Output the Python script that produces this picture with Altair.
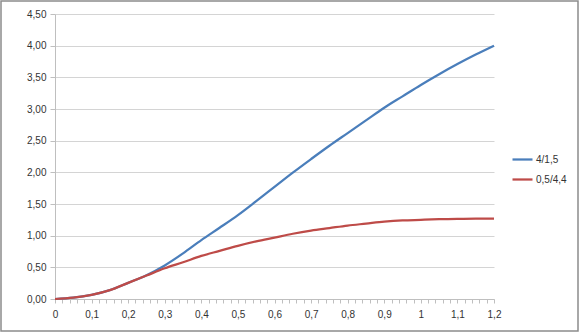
import altair as alt
import pandas as pd

x_vals = [0, 0.05, 0.1, 0.15, 0.2, 0.25, 0.3, 0.35, 0.4, 0.45, 0.5, 0.55, 0.6,
          0.65, 0.7, 0.75, 0.8, 0.85, 0.9, 0.95, 1.0, 1.05, 1.1, 1.15, 1.2]
blue_vals = [0, 0.02, 0.065, 0.14, 0.255, 0.375, 0.53, 0.72, 0.93, 1.125, 1.325, 1.545,
             1.77, 1.995, 2.21, 2.42, 2.62, 2.82, 3.02, 3.20, 3.38, 3.55, 3.71, 3.86, 4.0]
red_vals = [0, 0.02, 0.065, 0.14, 0.255, 0.37, 0.485, 0.58, 0.68, 0.76, 0.84, 0.91,
            0.97, 1.03, 1.08, 1.12, 1.16, 1.19, 1.22, 1.24, 1.25, 1.26, 1.265, 1.27, 1.27]
series_names = ["4/1,5", "0,5/4,4"]
series_colors = ["#4A7EBB", "#BE4B48"]
y_ticks = [0, 0.5, 1.0, 1.5, 2.0, 2.5, 3.0, 3.5, 4.0, 4.5]
x_ticks = [round(i * 0.02, 2) for i in range(61)]

rows = []
for xv, b, r in zip(x_vals, blue_vals, red_vals):
    rows.append({"x": xv, "v": b, "s": series_names[0]})
    rows.append({"x": xv, "v": r, "s": series_names[1]})
df = pd.DataFrame(rows)

FONT = "Liberation Sans"

lines = alt.Chart(df).mark_line(strokeWidth=2.25, interpolate="monotone").encode(
    x=alt.X("x:Q", scale=alt.Scale(domain=[0, 1.2], nice=False), title=None,
            axis=alt.Axis(values=x_ticks, grid=False, tickSize=4, tickColor="#bfbfbf",
                          domainColor="#bfbfbf", labelPadding=6,
                          labelExpr="(round(datum.value*50) % 5 == 0) ? replace(format(datum.value, '.1~f'), '.', ',') : ''",
                          labelFont=FONT, labelFontSize=10, labelColor="#333333",
                          labelFlush=False, labelOverlap=False)),
    y=alt.Y("v:Q", scale=alt.Scale(domain=[0, 4.5], nice=False), title=None,
            axis=alt.Axis(values=y_ticks, grid=True, gridColor="#d4d4d4", tickSize=5,
                          tickColor="#bfbfbf", domainColor="#bfbfbf", labelPadding=4,
                          labelExpr="replace(format(datum.value, '.2f'), '.', ',')",
                          labelFont=FONT, labelFontSize=10, labelColor="#333333")),
    color=alt.Color("s:N", scale=alt.Scale(domain=series_names, range=series_colors),
                    sort=series_names,
                    legend=alt.Legend(title=None, orient="none", legendX=456, legendY=134,
                                      symbolType="stroke", symbolSize=400,
                                      symbolStrokeWidth=2.25, labelFont=FONT,
                                      labelFontSize=10, labelColor="#333333",
                                      rowPadding=3, labelOffset=2)),
)

border = alt.Chart(pd.DataFrame({"a": [0]})).mark_rect(
    fill=None, stroke="#8c8c8c", strokeWidth=1.5
).encode(x=alt.value(-54), x2=alt.value(523), y=alt.value(-13), y2=alt.value(317))

chart = alt.layer(border, lines).properties(
    width=439, height=285,
    padding={"left": 55, "top": 14, "right": 87, "bottom": 36},
    autosize=alt.AutoSizeParams(type="none"),
    background="white",
).configure_view(stroke=None)

chart.save("out.html", embed_options={"renderer": "svg", "actions": False})
